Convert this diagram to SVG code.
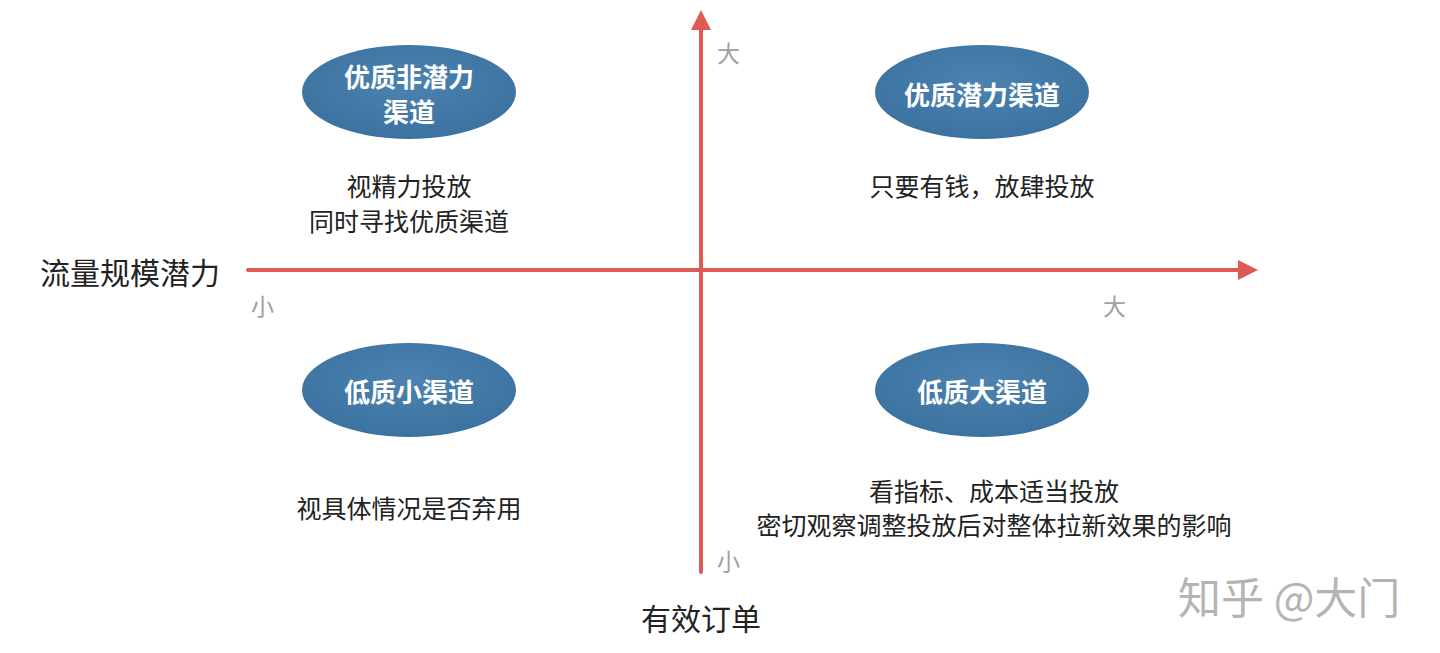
<svg xmlns="http://www.w3.org/2000/svg" width="1440" height="653" viewBox="0 0 1440 653">
<style>
.node ellipse{fill:url(#eg);}
.nt{font-family:"Noto Sans CJK SC","Noto Sans",sans-serif;font-size:26px;font-weight:bold;fill:#ffffff;text-anchor:middle;dominant-baseline:central;}
.desc{font-family:"Noto Sans CJK SC","Noto Sans",sans-serif;font-size:25px;fill:#222222;text-anchor:middle;dominant-baseline:central;}
.lab{font-family:"Noto Sans CJK SC","Noto Sans",sans-serif;font-size:30px;fill:#222222;dominant-baseline:central;}
.tick{font-family:"Noto Sans CJK SC","Noto Sans",sans-serif;font-size:23px;fill:#a0a0a0;dominant-baseline:central;}
.axis{stroke:#e05a55;stroke-width:4;fill:none;stroke-linecap:round;}
</style>
<defs>
<radialGradient id="eg" cx="50%" cy="40%" r="60%">
<stop offset="0" stop-color="#4b82b0"/>
<stop offset="1" stop-color="#3c72a0"/>
</radialGradient>
<marker id="ah" viewBox="0 0 10 10" refX="5" refY="5" markerWidth="5" markerHeight="5" orient="auto" markerUnits="strokeWidth">
<path d="M0,0 L10,5 L0,10 Z" fill="#e05a55"/>
</marker>
</defs>
<rect width="1440" height="653" fill="#ffffff"/>
<g id="connectors">
<line class="axis" x1="248" y1="270" x2="1248" y2="270" marker-end="url(#ah)"/>
<line class="axis" x1="701" y1="572" x2="701" y2="20" marker-end="url(#ah)"/>
</g>
<g id="labels">
<text class="lab" x="40" y="271">流量规模潜力</text>
<text class="lab" x="701" y="617" text-anchor="middle">有效订单</text>
<text class="tick" x="717" y="52">大</text>
<text class="tick" x="251" y="305">小</text>
<text class="tick" x="1103" y="305">大</text>
<text class="tick" x="717" y="560">小</text>
</g>
<g id="node-tl" class="node">
<ellipse cx="409" cy="92" rx="107" ry="47"/>
<text class="nt" x="409" y="75">优质非潜力</text>
<text class="nt" x="409" y="110">渠道</text>
</g>
<g id="node-tr" class="node">
<ellipse cx="982" cy="92" rx="107" ry="47"/>
<text class="nt" x="982" y="93">优质潜力渠道</text>
</g>
<g id="node-bl" class="node">
<ellipse cx="409" cy="390" rx="107" ry="47"/>
<text class="nt" x="409" y="390">低质小渠道</text>
</g>
<g id="node-br" class="node">
<ellipse cx="982" cy="390" rx="107" ry="47"/>
<text class="nt" x="982" y="390">低质大渠道</text>
</g>
<g id="descs">
<text class="desc" x="409" y="185">视精力投放</text>
<text class="desc" x="409" y="220">同时寻找优质渠道</text>
<text class="desc" x="982" y="185">只要有钱，放肆投放</text>
<text class="desc" x="409" y="507">视具体情况是否弃用</text>
<text class="desc" x="994" y="490">看指标、成本适当投放</text>
<text class="desc" x="994" y="524">密切观察调整投放后对整体拉新效果的影响</text>
</g>
<text x="1178" y="595" font-family="Noto Sans CJK SC,sans-serif" font-size="43" fill="#b4b4b4" dominant-baseline="central">知乎 @大门</text>
</svg>
